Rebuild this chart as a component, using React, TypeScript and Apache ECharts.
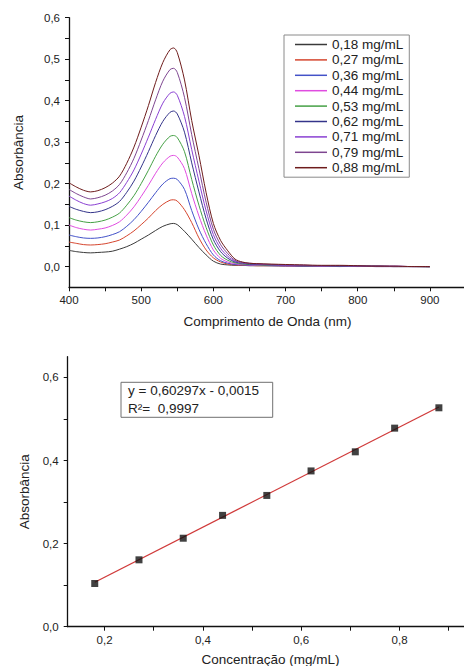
import React, { useEffect, useRef } from "react";
import * as echarts from "echarts";

// ---------- Top chart: UV-Vis spectra ----------
const wavelengths = [400, 410, 420, 430, 440, 450, 460, 470, 480, 490, 500, 510, 520, 530, 540, 545, 550, 560, 570, 580, 590, 600, 610, 620, 630, 640, 650, 660, 680, 700, 725, 750, 775, 800, 825, 850, 875, 900];

const seriesNames = ["0,18 mg/mL", "0,27 mg/mL", "0,36 mg/mL", "0,44 mg/mL", "0,53 mg/mL", "0,62 mg/mL", "0,71 mg/mL", "0,79 mg/mL", "0,88 mg/mL"];
const seriesColors = ["#3a3a3a", "#d5462f", "#4352c8", "#e04ce0", "#45a045", "#34348a", "#8a40d2", "#7e4690", "#6e1c1c"];

const abs018 = [0.039, 0.036, 0.034, 0.033, 0.034, 0.035, 0.037, 0.042, 0.048, 0.056, 0.066, 0.076, 0.087, 0.097, 0.103, 0.104, 0.101, 0.085, 0.066, 0.046, 0.028, 0.013, 0.006, 0.004, 0.003, 0.003, 0.002, 0.002, 0.002, 0.001, 0.001, 0.001, 0.0, 0.001, 0.0, 0.0, 0.0, -0.001];
const abs027 = [0.059, 0.056, 0.053, 0.052, 0.053, 0.055, 0.059, 0.064, 0.074, 0.086, 0.101, 0.117, 0.135, 0.150, 0.160, 0.161, 0.158, 0.137, 0.106, 0.069, 0.040, 0.021, 0.011, 0.006, 0.004, 0.003, 0.003, 0.002, 0.002, 0.002, 0.001, 0.001, 0.001, 0.0, 0.001, 0.0, 0.0, 0.0];
const abs036 = [0.076, 0.072, 0.069, 0.068, 0.069, 0.072, 0.077, 0.084, 0.097, 0.113, 0.133, 0.155, 0.178, 0.199, 0.212, 0.213, 0.210, 0.186, 0.135, 0.090, 0.055, 0.028, 0.014, 0.008, 0.005, 0.004, 0.003, 0.003, 0.002, 0.002, 0.001, 0.001, 0.001, 0.001, 0.0, 0.0, 0.0, 0.0];
const abs044 = [0.100, 0.094, 0.090, 0.088, 0.090, 0.093, 0.099, 0.108, 0.124, 0.144, 0.169, 0.196, 0.225, 0.250, 0.266, 0.268, 0.264, 0.236, 0.176, 0.122, 0.076, 0.040, 0.020, 0.011, 0.007, 0.005, 0.004, 0.003, 0.003, 0.002, 0.002, 0.001, 0.001, 0.001, 0.0, 0.0, 0.0, 0.0];
const abs053 = [0.118, 0.112, 0.108, 0.106, 0.108, 0.112, 0.119, 0.129, 0.148, 0.171, 0.200, 0.232, 0.266, 0.295, 0.314, 0.316, 0.311, 0.277, 0.210, 0.148, 0.094, 0.052, 0.027, 0.015, 0.009, 0.006, 0.005, 0.004, 0.003, 0.003, 0.002, 0.002, 0.001, 0.001, 0.001, 0.0, 0.0, 0.0];
const abs062 = [0.145, 0.138, 0.133, 0.130, 0.132, 0.137, 0.145, 0.157, 0.179, 0.206, 0.240, 0.277, 0.316, 0.350, 0.372, 0.375, 0.368, 0.324, 0.250, 0.180, 0.115, 0.065, 0.036, 0.020, 0.011, 0.008, 0.006, 0.005, 0.004, 0.003, 0.002, 0.002, 0.001, 0.001, 0.001, 0.0, 0.0, 0.0];
const abs071 = [0.170, 0.160, 0.152, 0.148, 0.151, 0.156, 0.164, 0.178, 0.203, 0.233, 0.271, 0.312, 0.355, 0.394, 0.418, 0.421, 0.413, 0.362, 0.282, 0.206, 0.134, 0.077, 0.044, 0.025, 0.013, 0.009, 0.007, 0.006, 0.004, 0.003, 0.003, 0.002, 0.002, 0.001, 0.001, 0.001, 0.0, 0.0];
const abs079 = [0.186, 0.176, 0.168, 0.163, 0.166, 0.172, 0.182, 0.198, 0.226, 0.261, 0.305, 0.352, 0.402, 0.447, 0.475, 0.478, 0.468, 0.408, 0.318, 0.236, 0.155, 0.090, 0.053, 0.031, 0.015, 0.010, 0.008, 0.007, 0.005, 0.004, 0.003, 0.002, 0.002, 0.001, 0.001, 0.001, 0.0, 0.0];
const abs088 = [0.202, 0.192, 0.184, 0.180, 0.183, 0.190, 0.201, 0.218, 0.249, 0.288, 0.336, 0.388, 0.444, 0.492, 0.523, 0.527, 0.516, 0.450, 0.352, 0.268, 0.178, 0.104, 0.063, 0.038, 0.018, 0.011, 0.008, 0.007, 0.006, 0.005, 0.004, 0.003, 0.003, 0.002, 0.001, 0.001, 0.0, 0.0];
const spectra = [abs018, abs027, abs036, abs044, abs053, abs062, abs071, abs079, abs088];

const topXLabels = [400, 500, 600, 700, 800, 900];
const topXTicks = [400, 450, 500, 550, 600, 650, 700, 750, 800, 850, 900];
const topYLabels = [0, 0.1, 0.2, 0.3, 0.4, 0.5, 0.6];
const topYTicks = [0, 0.05, 0.1, 0.15, 0.2, 0.25, 0.3, 0.35, 0.4, 0.45, 0.5, 0.55, 0.6];

// ---------- Bottom chart: calibration curve ----------
const concentrations = [0.18, 0.27, 0.36, 0.44, 0.53, 0.62, 0.71, 0.79, 0.88];
const peakAbsorbance = [0.104, 0.161, 0.213, 0.268, 0.316, 0.375, 0.421, 0.478, 0.527];
const fitLineX = [0.18, 0.88];
const fitLineY = [0.107, 0.529];
const equationText = "y = 0,60297x - 0,0015";
const r2Text = "R²=  0,9997";

const botXLabels = [0.2, 0.4, 0.6, 0.8];
const botXTicks = [0.2, 0.3, 0.4, 0.5, 0.6, 0.7, 0.8, 0.9];
const botYLabels = [0, 0.2, 0.4, 0.6];
const botYTicks = [0, 0.1, 0.2, 0.3, 0.4, 0.5, 0.6];

const FONT = "Liberation Sans, Arial, sans-serif";
const comma1 = (v: number) => v.toFixed(1).replace(".", ",");

export default function App() {
  const ref = useRef<HTMLDivElement>(null);

  useEffect(() => {
    if (!ref.current) return;
    const chart = echarts.init(ref.current, undefined, { renderer: "svg" });

    const axisLineStyle = { color: "#111", width: 1.3 };
    const tickStyle = { show: true, length: 4, lineStyle: { color: "#111", width: 1 } };
    const labelStyle = { color: "#222", fontSize: 11.5, fontFamily: FONT };
    const nameStyle = { color: "#222", fontSize: 13.5, fontFamily: FONT };

    const lineSeries = spectra.map((vals, i) => ({
      type: "line",
      name: seriesNames[i],
      xAxisIndex: 0,
      yAxisIndex: 0,
      data: wavelengths.map((w, k) => [w, vals[k]]),
      symbol: "none",
      smooth: 0.3,
      lineStyle: { color: seriesColors[i], width: 1 },
      itemStyle: { color: seriesColors[i] },
      z: 2 + i,
    }));

    const option: any = {
      animation: false,
      backgroundColor: "#fff",
      textStyle: { fontFamily: FONT },
      grid: [
        { left: 69, top: 17.7, width: 397, height: 269.6, outerBoundsMode: "none", containLabel: false },
        { left: 67.7, top: 356.7, width: 405.6, height: 270, outerBoundsMode: "none", containLabel: false },
      ],
      legend: {
        data: seriesNames,
        orient: "vertical",
        left: 284,
        top: 35,
        icon: "rect",
        itemWidth: 32,
        itemHeight: 1.5,
        itemGap: 0.4,
        itemTextGap: 4,
        padding: [2, 6, 2, 11],
        borderColor: "#8a8a8a",
        borderWidth: 1,
        backgroundColor: "#fff",
        textStyle: { fontSize: 13.5, lineHeight: 15, color: "#222", fontFamily: FONT },
      },
      xAxis: [
        {
          type: "value",
          gridIndex: 0,
          min: 400,
          max: 950,
          name: "Comprimento de Onda (nm)",
          nameLocation: "middle",
          nameGap: 27,
          nameTextStyle: nameStyle,
          axisLine: { show: true, onZero: false, lineStyle: axisLineStyle },
          axisTick: { ...tickStyle, customValues: topXTicks },
          axisLabel: { ...labelStyle, margin: 7, customValues: topXLabels, formatter: (v: number) => String(v) },
          splitLine: { show: false },
        },
        {
          type: "value",
          gridIndex: 1,
          min: 0.125,
          max: 0.95,
          name: "Concentração (mg/mL)",
          nameLocation: "middle",
          nameGap: 26,
          nameTextStyle: nameStyle,
          axisLine: { show: true, onZero: false, lineStyle: axisLineStyle },
          axisTick: { ...tickStyle, customValues: botXTicks },
          axisLabel: { ...labelStyle, margin: 7, customValues: botXLabels, formatter: comma1 },
          splitLine: { show: false },
        },
      ],
      yAxis: [
        {
          type: "value",
          gridIndex: 0,
          min: -0.05,
          max: 0.6,
          name: "Absorbância",
          nameLocation: "middle",
          nameGap: 44,
          nameTextStyle: nameStyle,
          axisLine: { show: true, onZero: false, lineStyle: axisLineStyle },
          axisTick: { ...tickStyle, customValues: topYTicks },
          axisLabel: { ...labelStyle, margin: 9, customValues: topYLabels, formatter: comma1 },
          splitLine: { show: false },
        },
        {
          type: "value",
          gridIndex: 1,
          min: 0,
          max: 0.65,
          name: "Absorbância",
          nameLocation: "middle",
          nameGap: 34,
          nameTextStyle: nameStyle,
          axisLine: { show: true, onZero: false, lineStyle: axisLineStyle },
          axisTick: { ...tickStyle, customValues: botYTicks },
          axisLabel: { ...labelStyle, margin: 9, customValues: botYLabels, formatter: comma1 },
          splitLine: { show: false },
        },
      ],
      series: [
        ...lineSeries,
        {
          type: "line",
          name: "Ajuste linear",
          xAxisIndex: 1,
          yAxisIndex: 1,
          data: fitLineX.map((x, k) => [x, fitLineY[k]]),
          symbol: "none",
          lineStyle: { color: "#d03a3a", width: 1.3 },
          z: 2,
        },
        {
          type: "scatter",
          name: "Absorbância máxima",
          xAxisIndex: 1,
          yAxisIndex: 1,
          data: concentrations.map((c, k) => [c, peakAbsorbance[k]]),
          symbol: "rect",
          symbolSize: 7,
          itemStyle: { color: "#111" },
          z: 5,
        },
      ],
      graphic: [
        {
          type: "rect",
          shape: { x: 121, y: 382.3, width: 151.7, height: 35 },
          style: { fill: "#fff", stroke: "#707070", lineWidth: 1 },
          z: 10,
        },
        {
          type: "text",
          x: 128,
          y: 383.5,
          style: { text: equationText, fontSize: 13.5, fontFamily: FONT, fill: "#222" },
          z: 11,
        },
        {
          type: "text",
          x: 128,
          y: 401.5,
          style: { text: r2Text, fontSize: 13.5, fontFamily: FONT, fill: "#222" },
          z: 11,
        },
      ],
    };

    chart.setOption(option);
    return () => chart.dispose();
  }, []);

  return (
    <div
      ref={ref}
      style={{ position: "fixed", left: 0, top: 0, width: 464, height: 666, background: "#fff" }}
    />
  );
}
